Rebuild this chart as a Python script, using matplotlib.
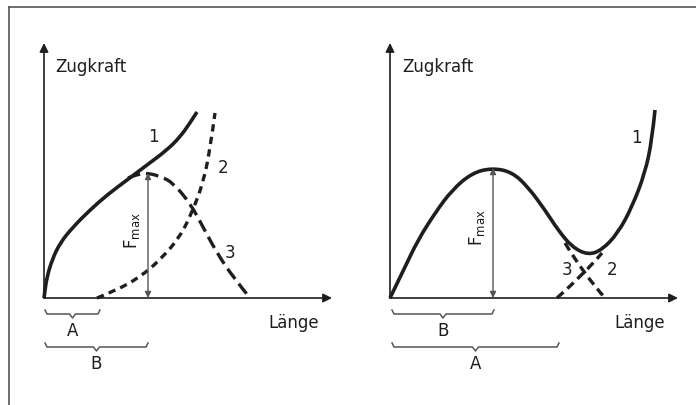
import matplotlib.pyplot as plt
from matplotlib.lines import Line2D
from matplotlib.path import Path
from matplotlib.patches import PathPatch

# Left diagram: Länge / Zugkraft values (arbitrary units)
left_c1_x = [0, 1, 3, 8, 16, 29, 46, 63, 83, 103, 123, 136, 146, 153]
left_c1_y = [0, 8, 21, 38, 55, 71, 88, 103, 118, 133, 148, 161, 175, 186]
left_c2_x = [53, 73, 96, 116, 136, 149, 159, 166, 171]
left_c2_y = [0, 8, 21, 38, 61, 88, 115, 148, 185]
left_c3_x = [84, 94, 104, 118, 129, 146, 159, 173, 189, 206]
left_c3_y = [120, 124, 125, 121, 115, 95, 71, 45, 21, 0]
left_fmax_x = 104
left_fmax = 125

# Right diagram
right_c1_x = [0, 15, 28, 45, 62, 82, 102, 122, 138, 155, 168, 182, 198, 212,
              228, 242, 255, 262, 265]
right_c1_y = [0, 31, 58, 85, 108, 125, 130, 126, 111, 88, 68, 51, 43, 48,
              65, 91, 125, 158, 188]
right_c2_x = [167, 195, 212]
right_c2_y = [0, 25, 45]
right_c3_x = [175, 193, 215]
right_c3_y = [55, 25, 0]
right_fmax_x = 103
right_fmax = 130

# braces (label, start, end) for the range labels
left_braces = [("A", 1, 56), ("B", 1, 104)]
right_braces = [("B", 2, 104), ("A", 2, 169)]

ink = "#1e1e1e"
thin = "#555555"


def curve(ax, xs, ys, lw=2.6, dashes=None):
    # smooth drawing: the read points act as quadratic bezier controls
    verts = [(xs[0], ys[0])]
    codes = [Path.MOVETO]
    n = len(xs)
    for i in range(1, n - 1):
        mid = ((xs[i] + xs[i + 1]) / 2, (ys[i] + ys[i + 1]) / 2)
        if i == n - 2:
            mid = (xs[i + 1], ys[i + 1])
        verts += [(xs[i], ys[i]), mid]
        codes += [Path.CURVE3, Path.CURVE3]
    if n == 2:
        verts.append((xs[1], ys[1]))
        codes.append(Path.LINETO)
    ls = "-" if dashes is None else (0, dashes)
    ax.add_patch(PathPatch(Path(verts, codes), fill=False, edgecolor=ink,
                           lw=lw, linestyle=ls, capstyle="butt",
                           joinstyle="round"))


def brace(ax, x0, x1, y, label):
    # small curly brace with tip in the middle, label below
    xm = (x0 + x1) / 2
    h = 4
    ax.plot([x0, x0 + 2, xm - 3, xm, xm + 3, x1 - 2, x1],
            [y + h, y, y, y - h, y, y, y + h],
            color=thin, lw=1.1, solid_joinstyle="round")
    ax.text(xm, y - 17, label, ha="center", va="center", fontsize=12, color=ink)


def axes_arrows(ax, xend, yend):
    ap = dict(arrowstyle="-|>", color=ink, lw=1.2, mutation_scale=13,
              shrinkA=0, shrinkB=0)
    ax.annotate("", xy=(0, yend), xytext=(0, 0), arrowprops=ap)
    ax.annotate("", xy=(xend, 0), xytext=(0, 0), arrowprops=ap)


def fmax_arrow(ax, x, top):
    ap = dict(arrowstyle="<|-|>", color=thin, lw=1.0, mutation_scale=9,
              shrinkA=0, shrinkB=0)
    ax.annotate("", xy=(x, top), xytext=(x, 0), arrowprops=ap)
    ax.text(x - 16, top / 2 + 5, r"F$_\mathregular{max}$", rotation=90,
            ha="center", va="center", fontsize=12, color=ink)


fig = plt.figure(figsize=(6.96, 4.05), dpi=100)
axl = fig.add_axes([0, 0, 0.5, 1])
axr = fig.add_axes([0.5, 0, 0.5, 1])
axl.set_xlim(-44, 304)
axr.set_xlim(-42, 306)
for ax in (axl, axr):
    ax.set_ylim(-107, 298)
    ax.axis("off")

# left diagram
axes_arrows(axl, 288, 255)
curve(axl, left_c1_x, left_c1_y)
curve(axl, left_c2_x, left_c2_y, lw=2.4, dashes=(2.2, 1.6))
curve(axl, left_c3_x, left_c3_y, lw=2.4, dashes=(3.8, 1.8))
fmax_arrow(axl, left_fmax_x, left_fmax)
axl.text(11, 231, "Zugkraft", ha="left", va="center", fontsize=12, color=ink)
axl.text(224, -25, "Länge", ha="left", va="center", fontsize=12, color=ink)
axl.text(109, 161, "1", ha="center", va="center", fontsize=12, color=ink)
axl.text(179, 130, "2", ha="center", va="center", fontsize=12, color=ink)
axl.text(186, 45, "3", ha="center", va="center", fontsize=12, color=ink)
for (lab, a, b), y in zip(left_braces, [-16, -49]):
    brace(axl, a, b, y, lab)

# right diagram
axes_arrows(axr, 288, 255)
curve(axr, right_c1_x, right_c1_y)
curve(axr, right_c2_x, right_c2_y, lw=2.4, dashes=(2.6, 1.6))
curve(axr, right_c3_x, right_c3_y, lw=2.4, dashes=(2.6, 1.6))
fmax_arrow(axr, right_fmax_x, right_fmax)
axr.text(12, 231, "Zugkraft", ha="left", va="center", fontsize=12, color=ink)
axr.text(224, -25, "Länge", ha="left", va="center", fontsize=12, color=ink)
axr.text(246, 160, "1", ha="center", va="center", fontsize=12, color=ink)
axr.text(177, 28, "3", ha="center", va="center", fontsize=12, color=ink)
axr.text(222, 28, "2", ha="center", va="center", fontsize=12, color=ink)
for (lab, a, b), y in zip(right_braces, [-16, -49]):
    brace(axr, a, b, y, lab)

# frame: only the left and top edges are visible in the scan
fig.add_artist(Line2D([9 / 696, 9 / 696], [0, 398 / 405], color=thin, lw=1.2))
fig.add_artist(Line2D([9 / 696, 1], [398 / 405, 398 / 405], color=thin, lw=1.2))

fig.savefig("out.png", dpi=100)
